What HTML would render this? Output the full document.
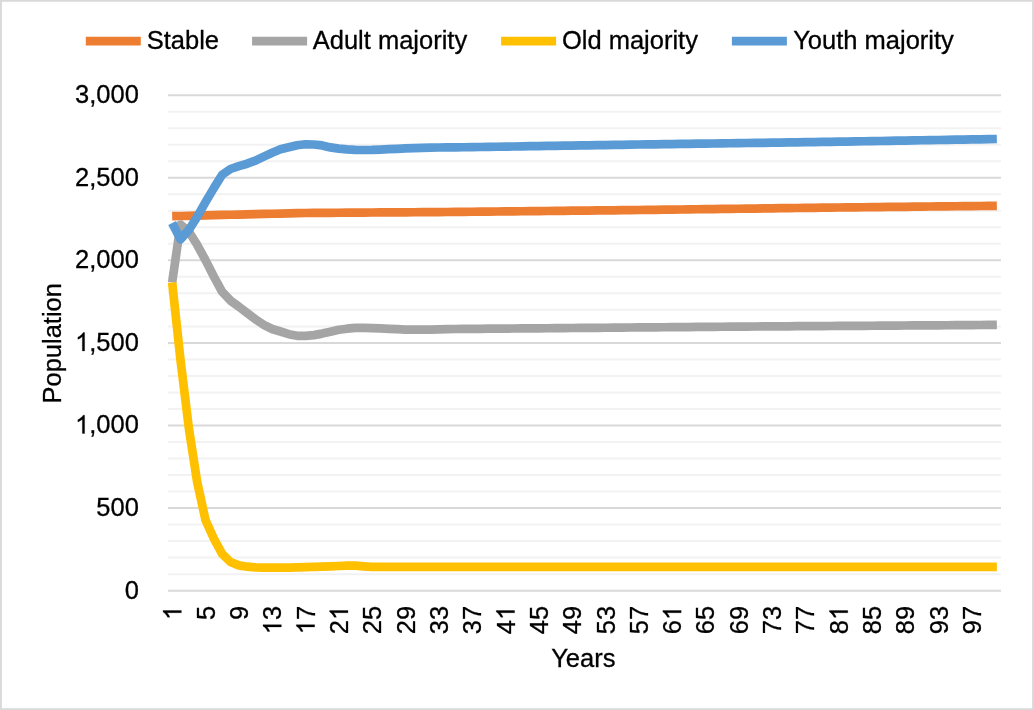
<!DOCTYPE html>
<html lang="en"><head><meta charset="utf-8"><title>Population chart</title>
<style>html,body{margin:0;padding:0;background:#fff;}body{width:1034px;height:710px;overflow:hidden;}svg{display:block;will-change:transform;}text{font-family:'Liberation Sans', sans-serif;fill:#000;stroke:#000;stroke-width:0.3px;}</style></head><body>
<svg width="1034" height="710" viewBox="0 0 1034 710">
<rect x="0" y="0" width="1034" height="710" fill="#ffffff"/>
<path fill="#D9D9D9" fill-rule="evenodd" d="M0 0H1034V710H0Z M1.9 1.8V708.2H1032.1V1.8Z"/>
<g><line x1="168.0" x2="1001.0" y1="590.65" y2="590.65" stroke="#D9D9D9" stroke-width="2"/><line x1="168.0" x2="1001.0" y1="574.13" y2="574.13" stroke="#F2F2F2" stroke-width="2"/><line x1="168.0" x2="1001.0" y1="557.62" y2="557.62" stroke="#F2F2F2" stroke-width="2"/><line x1="168.0" x2="1001.0" y1="541.10" y2="541.10" stroke="#F2F2F2" stroke-width="2"/><line x1="168.0" x2="1001.0" y1="524.58" y2="524.58" stroke="#F2F2F2" stroke-width="2"/><line x1="168.0" x2="1001.0" y1="508.07" y2="508.07" stroke="#D9D9D9" stroke-width="2"/><line x1="168.0" x2="1001.0" y1="491.55" y2="491.55" stroke="#F2F2F2" stroke-width="2"/><line x1="168.0" x2="1001.0" y1="475.03" y2="475.03" stroke="#F2F2F2" stroke-width="2"/><line x1="168.0" x2="1001.0" y1="458.52" y2="458.52" stroke="#F2F2F2" stroke-width="2"/><line x1="168.0" x2="1001.0" y1="442.00" y2="442.00" stroke="#F2F2F2" stroke-width="2"/><line x1="168.0" x2="1001.0" y1="425.48" y2="425.48" stroke="#D9D9D9" stroke-width="2"/><line x1="168.0" x2="1001.0" y1="408.97" y2="408.97" stroke="#F2F2F2" stroke-width="2"/><line x1="168.0" x2="1001.0" y1="392.45" y2="392.45" stroke="#F2F2F2" stroke-width="2"/><line x1="168.0" x2="1001.0" y1="375.93" y2="375.93" stroke="#F2F2F2" stroke-width="2"/><line x1="168.0" x2="1001.0" y1="359.42" y2="359.42" stroke="#F2F2F2" stroke-width="2"/><line x1="168.0" x2="1001.0" y1="342.90" y2="342.90" stroke="#D9D9D9" stroke-width="2"/><line x1="168.0" x2="1001.0" y1="326.38" y2="326.38" stroke="#F2F2F2" stroke-width="2"/><line x1="168.0" x2="1001.0" y1="309.87" y2="309.87" stroke="#F2F2F2" stroke-width="2"/><line x1="168.0" x2="1001.0" y1="293.35" y2="293.35" stroke="#F2F2F2" stroke-width="2"/><line x1="168.0" x2="1001.0" y1="276.83" y2="276.83" stroke="#F2F2F2" stroke-width="2"/><line x1="168.0" x2="1001.0" y1="260.32" y2="260.32" stroke="#D9D9D9" stroke-width="2"/><line x1="168.0" x2="1001.0" y1="243.80" y2="243.80" stroke="#F2F2F2" stroke-width="2"/><line x1="168.0" x2="1001.0" y1="227.28" y2="227.28" stroke="#F2F2F2" stroke-width="2"/><line x1="168.0" x2="1001.0" y1="210.77" y2="210.77" stroke="#F2F2F2" stroke-width="2"/><line x1="168.0" x2="1001.0" y1="194.25" y2="194.25" stroke="#F2F2F2" stroke-width="2"/><line x1="168.0" x2="1001.0" y1="177.73" y2="177.73" stroke="#D9D9D9" stroke-width="2"/><line x1="168.0" x2="1001.0" y1="161.22" y2="161.22" stroke="#F2F2F2" stroke-width="2"/><line x1="168.0" x2="1001.0" y1="144.70" y2="144.70" stroke="#F2F2F2" stroke-width="2"/><line x1="168.0" x2="1001.0" y1="128.18" y2="128.18" stroke="#F2F2F2" stroke-width="2"/><line x1="168.0" x2="1001.0" y1="111.67" y2="111.67" stroke="#F2F2F2" stroke-width="2"/><line x1="168.0" x2="1001.0" y1="95.15" y2="95.15" stroke="#D9D9D9" stroke-width="2"/></g>
<polyline fill="none" stroke="#ED7D31" stroke-width="8.7" stroke-linejoin="round" stroke-linecap="butt" points="172.16,216.20 180.50,215.99 188.82,215.78 197.16,215.57 205.49,215.37 213.81,215.16 222.15,214.95 230.47,214.74 238.81,214.53 247.13,214.32 255.47,214.11 263.80,213.92 272.12,213.73 280.45,213.55 288.78,213.36 297.12,213.18 305.44,213.00 313.77,212.94 322.11,212.88 330.44,212.82 338.76,212.76 347.10,212.70 355.43,212.64 363.75,212.58 372.09,212.52 380.41,212.46 388.75,212.41 397.07,212.35 405.40,212.29 413.74,212.23 422.06,212.17 430.39,212.11 438.73,212.05 447.06,211.99 455.38,211.93 463.71,211.86 472.05,211.77 480.38,211.68 488.70,211.60 497.04,211.51 505.37,211.42 513.69,211.33 522.02,211.25 530.36,211.16 538.68,211.07 547.01,210.98 555.35,210.89 563.67,210.81 572.00,210.72 580.34,210.63 588.66,210.54 597.00,210.45 605.33,210.37 613.65,210.28 621.99,210.19 630.32,210.10 638.64,210.01 646.98,209.91 655.31,209.80 663.63,209.70 671.97,209.59 680.29,209.49 688.62,209.38 696.96,209.27 705.28,209.17 713.62,209.06 721.95,208.95 730.27,208.85 738.61,208.74 746.94,208.63 755.26,208.53 763.60,208.42 771.92,208.31 780.25,208.21 788.59,208.10 796.91,207.99 805.25,207.89 813.58,207.78 821.90,207.68 830.24,207.59 838.57,207.50 846.89,207.41 855.23,207.32 863.55,207.23 871.88,207.14 880.22,207.05 888.54,206.96 896.88,206.87 905.21,206.78 913.53,206.70 921.87,206.61 930.20,206.52 938.52,206.43 946.86,206.34 955.19,206.25 963.51,206.16 971.85,206.07 980.17,205.98 988.50,205.89 996.84,205.80"/>
<polyline fill="none" stroke="#A5A5A5" stroke-width="8.7" stroke-linejoin="round" stroke-linecap="butt" points="172.16,282.50 180.50,224.50 188.82,231.50 197.16,244.80 205.49,260.10 213.81,276.50 222.15,291.80 230.47,300.60 238.81,306.60 247.13,313.00 255.47,319.30 263.80,324.80 272.12,329.00 280.45,331.50 288.78,334.20 297.12,335.80 305.44,335.80 313.77,335.10 322.11,333.60 330.44,331.70 338.76,329.80 347.10,328.70 355.43,327.90 363.75,327.90 372.09,328.10 380.41,328.40 388.75,328.80 397.07,329.20 405.40,329.60 413.74,329.70 422.06,329.70 430.39,329.60 438.73,329.40 447.06,329.20 455.38,329.00 463.71,328.93 472.05,328.86 480.38,328.79 488.70,328.72 497.04,328.65 505.37,328.58 513.69,328.51 522.02,328.44 530.36,328.37 538.68,328.30 547.01,328.23 555.35,328.16 563.67,328.09 572.00,328.02 580.34,327.95 588.66,327.88 597.00,327.81 605.33,327.74 613.65,327.67 621.99,327.60 630.32,327.52 638.64,327.45 646.98,327.38 655.31,327.31 663.63,327.24 671.97,327.17 680.29,327.10 688.62,327.03 696.96,326.96 705.28,326.89 713.62,326.82 721.95,326.75 730.27,326.68 738.61,326.61 746.94,326.55 755.26,326.50 763.60,326.44 771.92,326.39 780.25,326.33 788.59,326.28 796.91,326.22 805.25,326.17 813.58,326.11 821.90,326.06 830.24,326.00 838.57,325.95 846.89,325.89 855.23,325.84 863.55,325.78 871.88,325.73 880.22,325.67 888.54,325.62 896.88,325.56 905.21,325.51 913.53,325.45 921.87,325.40 930.20,325.34 938.52,325.29 946.86,325.23 955.19,325.18 963.51,325.12 971.85,325.07 980.17,325.01 988.50,324.96 996.84,324.90"/>
<polyline fill="none" stroke="#FFC000" stroke-width="8.7" stroke-linejoin="round" stroke-linecap="butt" points="172.16,282.50 180.50,360.00 188.82,428.00 197.16,482.00 205.49,520.00 213.81,538.50 222.15,553.80 230.47,562.00 238.81,565.40 247.13,566.70 255.47,567.40 263.80,567.70 272.12,567.70 280.45,567.70 288.78,567.60 297.12,567.40 305.44,567.10 313.77,566.80 322.11,566.60 330.44,566.30 338.76,566.00 347.10,565.60 355.43,565.70 363.75,566.30 372.09,566.80 380.41,566.90 388.75,566.90 397.07,566.90 405.40,566.90 413.74,566.90 422.06,566.90 430.39,566.90 438.73,566.90 447.06,566.90 455.38,566.90 463.71,566.90 472.05,566.90 480.38,566.90 488.70,566.90 497.04,566.90 505.37,566.90 513.69,566.90 522.02,566.90 530.36,566.90 538.68,566.90 547.01,566.90 555.35,566.90 563.67,566.90 572.00,566.90 580.34,566.90 588.66,566.90 597.00,566.90 605.33,566.90 613.65,566.90 621.99,566.90 630.32,566.90 638.64,566.90 646.98,566.90 655.31,566.90 663.63,566.90 671.97,566.90 680.29,566.90 688.62,566.90 696.96,566.90 705.28,566.90 713.62,566.90 721.95,566.90 730.27,566.90 738.61,566.90 746.94,566.90 755.26,566.90 763.60,566.90 771.92,566.90 780.25,566.90 788.59,566.90 796.91,566.90 805.25,566.90 813.58,566.90 821.90,566.90 830.24,566.90 838.57,566.90 846.89,566.90 855.23,566.90 863.55,566.90 871.88,566.90 880.22,566.90 888.54,566.90 896.88,566.90 905.21,566.90 913.53,566.90 921.87,566.90 930.20,566.90 938.52,566.90 946.86,566.90 955.19,566.90 963.51,566.90 971.85,566.90 980.17,566.90 988.50,566.90 996.84,566.90"/>
<polyline fill="none" stroke="#5B9BD5" stroke-width="8.7" stroke-linejoin="round" stroke-linecap="butt" points="172.16,223.00 180.50,239.30 188.82,230.00 197.16,216.90 205.49,202.20 213.81,188.10 222.15,174.80 230.47,169.00 238.81,166.10 247.13,163.70 255.47,160.60 263.80,156.60 272.12,152.80 280.45,149.30 288.78,147.20 297.12,145.20 305.44,144.30 313.77,144.50 322.11,145.40 330.44,147.40 338.76,148.60 347.10,149.40 355.43,149.90 363.75,150.00 372.09,149.90 380.41,149.60 388.75,149.20 397.07,148.80 405.40,148.40 413.74,148.10 422.06,147.90 430.39,147.70 438.73,147.50 447.06,147.40 455.38,147.40 463.71,147.27 472.05,147.14 480.38,147.01 488.70,146.88 497.04,146.75 505.37,146.61 513.69,146.48 522.02,146.35 530.36,146.22 538.68,146.09 547.01,145.96 555.35,145.83 563.67,145.70 572.00,145.57 580.34,145.44 588.66,145.31 597.00,145.18 605.33,145.04 613.65,144.91 621.99,144.78 630.32,144.65 638.64,144.52 646.98,144.40 655.31,144.29 663.63,144.17 671.97,144.06 680.29,143.94 688.62,143.82 696.96,143.71 705.28,143.59 713.62,143.48 721.95,143.36 730.27,143.25 738.61,143.13 746.94,143.01 755.26,142.90 763.60,142.78 771.92,142.67 780.25,142.55 788.59,142.44 796.91,142.32 805.25,142.20 813.58,142.09 821.90,141.97 830.24,141.83 838.57,141.69 846.89,141.54 855.23,141.40 863.55,141.26 871.88,141.12 880.22,140.98 888.54,140.84 896.88,140.70 905.21,140.55 913.53,140.41 921.87,140.27 930.20,140.13 938.52,139.99 946.86,139.85 955.19,139.71 963.51,139.57 971.85,139.42 980.17,139.28 988.50,139.14 996.84,139.00"/>
<g transform="translate(138.9,598.65)"><text x="-14.18" y="0" font-size="25.5">0</text></g>
<g transform="translate(138.9,516.07)"><text x="-42.55 -28.36 -14.18" y="0" font-size="25.5">500</text></g>
<g transform="translate(138.9,433.48)"><text x="-49.63 -42.55 -28.36 -14.18" y="0" font-size="25.5">,000</text><path transform="translate(-63.81,0) scale(0.012451,-0.012451)" d="M763 0H583V1147Q518 1085 412.5 1023T223 930V1104Q373 1174.5 485.5 1275T645 1470H763Z" fill="#000" stroke="#000" stroke-width="24.1"/></g>
<g transform="translate(138.9,350.90)"><text x="-49.63 -42.55 -28.36 -14.18" y="0" font-size="25.5">,500</text><path transform="translate(-63.81,0) scale(0.012451,-0.012451)" d="M763 0H583V1147Q518 1085 412.5 1023T223 930V1104Q373 1174.5 485.5 1275T645 1470H763Z" fill="#000" stroke="#000" stroke-width="24.1"/></g>
<g transform="translate(138.9,268.32)"><text x="-63.81 -49.63 -42.55 -28.36 -14.18" y="0" font-size="25.5">2,000</text></g>
<g transform="translate(138.9,185.73)"><text x="-63.81 -49.63 -42.55 -28.36 -14.18" y="0" font-size="25.5">2,500</text></g>
<g transform="translate(138.9,103.15)"><text x="-63.81 -49.63 -42.55 -28.36 -14.18" y="0" font-size="25.5">3,000</text></g>
<g transform="translate(181.36,605.8) rotate(-90)"><path transform="translate(-14.18,0) scale(0.012451,-0.012451)" d="M763 0H583V1147Q518 1085 412.5 1023T223 930V1104Q373 1174.5 485.5 1275T645 1470H763Z" fill="#000" stroke="#000" stroke-width="24.1"/></g>
<g transform="translate(214.69,605.8) rotate(-90)"><text x="-14.18" y="0" font-size="25.5">5</text></g>
<g transform="translate(248.00,605.8) rotate(-90)"><text x="-14.18" y="0" font-size="25.5">9</text></g>
<g transform="translate(281.32,605.8) rotate(-90)"><text x="-14.18" y="0" font-size="25.5">3</text><path transform="translate(-28.36,0) scale(0.012451,-0.012451)" d="M763 0H583V1147Q518 1085 412.5 1023T223 930V1104Q373 1174.5 485.5 1275T645 1470H763Z" fill="#000" stroke="#000" stroke-width="24.1"/></g>
<g transform="translate(314.64,605.8) rotate(-90)"><text x="-14.18" y="0" font-size="25.5">7</text><path transform="translate(-28.36,0) scale(0.012451,-0.012451)" d="M763 0H583V1147Q518 1085 412.5 1023T223 930V1104Q373 1174.5 485.5 1275T645 1470H763Z" fill="#000" stroke="#000" stroke-width="24.1"/></g>
<g transform="translate(347.96,605.8) rotate(-90)"><text x="-28.36" y="0" font-size="25.5">2</text><path transform="translate(-14.18,0) scale(0.012451,-0.012451)" d="M763 0H583V1147Q518 1085 412.5 1023T223 930V1104Q373 1174.5 485.5 1275T645 1470H763Z" fill="#000" stroke="#000" stroke-width="24.1"/></g>
<g transform="translate(381.29,605.8) rotate(-90)"><text x="-28.36 -14.18" y="0" font-size="25.5">25</text></g>
<g transform="translate(414.60,605.8) rotate(-90)"><text x="-28.36 -14.18" y="0" font-size="25.5">29</text></g>
<g transform="translate(447.93,605.8) rotate(-90)"><text x="-28.36 -14.18" y="0" font-size="25.5">33</text></g>
<g transform="translate(481.25,605.8) rotate(-90)"><text x="-28.36 -14.18" y="0" font-size="25.5">37</text></g>
<g transform="translate(514.57,605.8) rotate(-90)"><text x="-28.36" y="0" font-size="25.5">4</text><path transform="translate(-14.18,0) scale(0.012451,-0.012451)" d="M763 0H583V1147Q518 1085 412.5 1023T223 930V1104Q373 1174.5 485.5 1275T645 1470H763Z" fill="#000" stroke="#000" stroke-width="24.1"/></g>
<g transform="translate(547.88,605.8) rotate(-90)"><text x="-28.36 -14.18" y="0" font-size="25.5">45</text></g>
<g transform="translate(581.21,605.8) rotate(-90)"><text x="-28.36 -14.18" y="0" font-size="25.5">49</text></g>
<g transform="translate(614.53,605.8) rotate(-90)"><text x="-28.36 -14.18" y="0" font-size="25.5">53</text></g>
<g transform="translate(647.85,605.8) rotate(-90)"><text x="-28.36 -14.18" y="0" font-size="25.5">57</text></g>
<g transform="translate(681.17,605.8) rotate(-90)"><text x="-28.36" y="0" font-size="25.5">6</text><path transform="translate(-14.18,0) scale(0.012451,-0.012451)" d="M763 0H583V1147Q518 1085 412.5 1023T223 930V1104Q373 1174.5 485.5 1275T645 1470H763Z" fill="#000" stroke="#000" stroke-width="24.1"/></g>
<g transform="translate(714.49,605.8) rotate(-90)"><text x="-28.36 -14.18" y="0" font-size="25.5">65</text></g>
<g transform="translate(747.81,605.8) rotate(-90)"><text x="-28.36 -14.18" y="0" font-size="25.5">69</text></g>
<g transform="translate(781.12,605.8) rotate(-90)"><text x="-28.36 -14.18" y="0" font-size="25.5">73</text></g>
<g transform="translate(814.45,605.8) rotate(-90)"><text x="-28.36 -14.18" y="0" font-size="25.5">77</text></g>
<g transform="translate(847.77,605.8) rotate(-90)"><text x="-28.36" y="0" font-size="25.5">8</text><path transform="translate(-14.18,0) scale(0.012451,-0.012451)" d="M763 0H583V1147Q518 1085 412.5 1023T223 930V1104Q373 1174.5 485.5 1275T645 1470H763Z" fill="#000" stroke="#000" stroke-width="24.1"/></g>
<g transform="translate(881.09,605.8) rotate(-90)"><text x="-28.36 -14.18" y="0" font-size="25.5">85</text></g>
<g transform="translate(914.41,605.8) rotate(-90)"><text x="-28.36 -14.18" y="0" font-size="25.5">89</text></g>
<g transform="translate(947.73,605.8) rotate(-90)"><text x="-28.36 -14.18" y="0" font-size="25.5">93</text></g>
<g transform="translate(981.05,605.8) rotate(-90)"><text x="-28.36 -14.18" y="0" font-size="25.5">97</text></g>
<text x="583.3" y="667.4" font-size="25.5" text-anchor="middle">Years</text>
<text transform="translate(60.6,343.3) rotate(-90)" font-size="25.5" text-anchor="middle">Population</text>
<line x1="85.8" x2="140.8" y1="41.1" y2="41.1" stroke="#ED7D31" stroke-width="8.7"/>
<text x="146.7" y="49.0" font-size="25.5">Stable</text>
<line x1="252.1" x2="307.1" y1="41.1" y2="41.1" stroke="#A5A5A5" stroke-width="8.7"/>
<text x="312.7" y="49.0" font-size="25.5">Adult majority</text>
<line x1="501.1" x2="556.1" y1="41.1" y2="41.1" stroke="#FFC000" stroke-width="8.7"/>
<text x="561.9" y="49.0" font-size="25.5">Old majority</text>
<line x1="731.9" x2="786.9" y1="41.1" y2="41.1" stroke="#5B9BD5" stroke-width="8.7"/>
<text x="793.2" y="49.0" font-size="25.5">Youth majority</text>
</svg></body></html>
